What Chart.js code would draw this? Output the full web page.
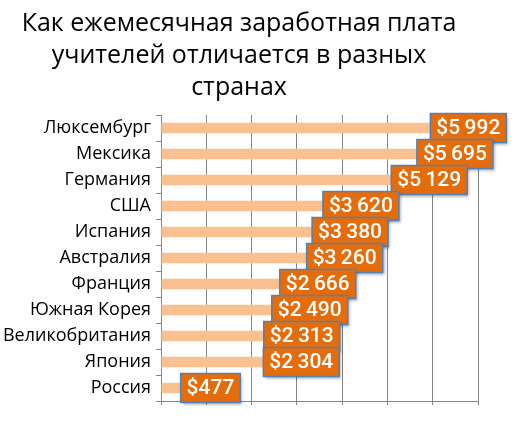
<!DOCTYPE html>
<html>
<head>
<meta charset="utf-8">
<script src="https://cdn.jsdelivr.net/npm/chart.js@4"></script>
<style>
  html, body { margin: 0; padding: 0; background: #fff; }
  #wrap { width: 521px; height: 430px; }
</style>
</head>
<body>
<div id="wrap"><canvas id="chart" width="521" height="430"></canvas></div>
<script>
const countries = ['Люксембург', 'Мексика', 'Германия', 'США', 'Испания', 'Австралия',
    'Франция', 'Южная Корея', 'Великобритания', 'Япония', 'Россия'];
const salaries = [5992, 5695, 5129, 3620, 3380, 3260, 2666, 2490, 2313, 2304, 477];
const titleLines = ['Как ежемесячная заработная плата', 'учителей отличается в разных', 'странах'];

function money(v) {
    const s = String(v);
    return '$' + (s.length > 3 ? s.slice(0, s.length - 3) + '\u2009' + s.slice(-3) : s);
}

// orange boxes with the value, drawn at the end of each bar
const valueBoxes = {
    id: 'valueBoxes',
    afterDatasetsDraw(chart) {
        const ctx = chart.ctx;
        const meta = chart.getDatasetMeta(0);
        ctx.save();
        ctx.font = '500 21px Roboto';
        ctx.textBaseline = 'middle';
        meta.data.forEach((bar, i) => {
            const text = money(salaries[i]);
            const w = ctx.measureText(text).width + 12;
            const h = 29;
            const x = bar.x - 2;
            const y = bar.y - h / 2;
            ctx.shadowColor = 'rgba(0,0,0,0.35)';
            ctx.shadowBlur = 3;
            ctx.shadowOffsetX = 2;
            ctx.shadowOffsetY = 2;
            ctx.fillStyle = '#E46C0A';
            ctx.fillRect(x, y, w, h);
            ctx.shadowColor = 'transparent';
            ctx.strokeStyle = '#4F81BD';
            ctx.lineWidth = 1.5;
            ctx.strokeRect(x, y, w, h);
            ctx.fillStyle = '#ffffff';
            ctx.fillText(text, x + 6, bar.y + 1);
        });
        ctx.restore();
    }
};

const ctx = document.getElementById('chart').getContext('2d');
new Chart(ctx, {
    type: 'bar',
    data: {
        labels: countries,
        datasets: [{
            data: salaries,
            backgroundColor: '#FAC090',
            borderWidth: 0,
            categoryPercentage: 1,
            barPercentage: 0.4
        }]
    },
    options: {
        indexAxis: 'y',
        responsive: false,
        animation: false,
        layout: { padding: { left: 0, right: 43, top: 0, bottom: 25 } },
        scales: {
            x: {
                min: 0,
                max: 7000,
                ticks: { display: false, stepSize: 1000 },
                grid: { color: '#868686', lineWidth: 1, drawTicks: true, tickLength: 4 },
                border: { color: '#868686', width: 1 }
            },
            y: {
                grid: { drawOnChartArea: false, drawTicks: true, tickLength: 5, offset: true, color: '#868686' },
                border: { color: '#868686', width: 1 },
                ticks: { color: '#000', font: { family: 'Open Sans', size: 18 }, padding: 5 },
                afterFit(scale) { scale.width = 161; }
            }
        },
        plugins: {
            legend: { display: false },
            tooltip: { enabled: false },
            title: {
                display: true,
                text: titleLines,
                color: '#000',
                font: { family: 'Open Sans', size: 25, weight: 'normal', lineHeight: 1.28 },
                padding: { top: 8, bottom: 11 }
            }
        }
    },
    plugins: [valueBoxes]
});
</script>
</body>
</html>
